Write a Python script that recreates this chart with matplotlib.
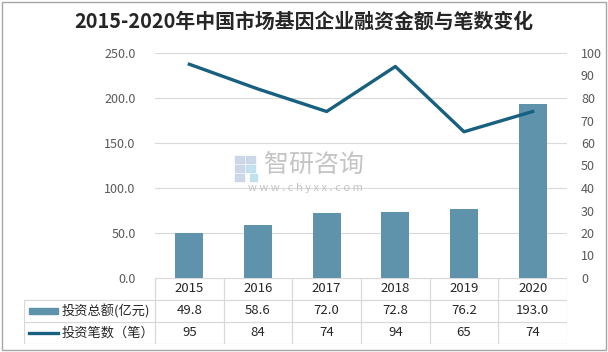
import numpy as np
import matplotlib
matplotlib.use("Agg")
import matplotlib.pyplot as plt
from matplotlib.patches import Rectangle
from matplotlib.lines import Line2D

plt.rcParams['font.family'] = ['Noto Sans CJK SC', 'DejaVu Sans']

# data
years = ['2015', '2016', '2017', '2018', '2019', '2020']
amount = [49.8, 58.6, 72.0, 72.8, 76.2, 193.0]   # 投资总额(亿元)
deals = [95, 84, 74, 94, 65, 74]                  # 投资笔数（笔）
title = '2015-2020年中国市场基因企业融资金额与笔数变化'
bar_label = '投资总额(亿元)'
line_label = '投资笔数（笔）'

W, H = 608, 352
bar_color = '#5F93AB'
line_color = '#17607F'
grid_color = '#D9D9D9'
tick_color = '#595959'

fig = plt.figure(figsize=(W / 100, H / 100), dpi=100)

def px_box(x0, y0, x1, y1):
    # pixel box (top-left origin) -> figure fraction rect
    return [x0 / W, 1 - y1 / H, (x1 - x0) / W, (y1 - y0) / H]

# outer frame
fig.add_artist(Rectangle((2 / W, 2 / H), (W - 4) / W, (H - 4) / H,
                         transform=fig.transFigure, fill=False,
                         edgecolor='#A6A6A6', linewidth=1))

fig.text(0.5, 1 - 21 / H, title, ha='center', va='center',
         fontsize=14.3, fontweight='bold', color='#262626')

# main plot area
ax = fig.add_axes(px_box(155, 53, 567, 278))
x = np.arange(len(years))
ax.bar(x, amount, width=0.41, color=bar_color, zorder=2)
ax.set_xlim(-0.5, len(years) - 0.5)
ax.set_ylim(0, 250)
ax.set_yticks(np.arange(0, 251, 50))
ax.set_yticklabels([f'{v:.1f}' for v in np.arange(0, 251, 50)])
ax.set_xticks([])
ax.grid(axis='y', color=grid_color, linewidth=0.8, zorder=0)
ax.set_axisbelow(True)
for s in ax.spines.values():
    s.set_visible(False)
ax.tick_params(axis='y', length=0, labelsize=9, labelcolor=tick_color, pad=14)

ax2 = ax.twinx()
ax2.plot(x, deals, color=line_color, linewidth=2.4, zorder=3)
ax2.set_ylim(0, 100)
ax2.set_yticks(np.arange(0, 101, 10))
for s in ax2.spines.values():
    s.set_visible(False)
ax2.tick_params(axis='y', length=0, labelsize=9, labelcolor=tick_color, pad=10)

# watermark
wm = fig.add_axes(px_box(233, 150, 380, 195))
wm.set_xlim(233, 380)
wm.set_ylim(195, 150)
wm.axis('off')
for (bx, by, bw, bh, c) in [(235, 156, 9, 7, '#C5D3E6'), (246, 156, 9, 7, '#C5D3E6'),
                            (235, 165, 9, 7, '#C5D3E6'), (246, 165, 9, 7, '#B9DDEE'),
                            (235, 174, 9, 7, '#C5D3E6'), (250, 174, 7, 7, '#B9DDEE')]:
    wm.add_patch(Rectangle((bx, by), bw, bh, color=c, alpha=0.85))
wm.text(264, 165, '智研咨询', ha='left', va='center', fontsize=18,
        color='#C4C4C4')
wm.text(305, 188, 'w w w . c h y x x . c o m', ha='center', va='center',
        fontsize=8, color='#C4C4C4')

# data table under the chart
tab = fig.add_axes(px_box(24, 278, 567, 344))
col_w = (567 - 155) / len(years)
left_edge = -0.5 - (155 - 24) / col_w
tab.set_xlim(left_edge, len(years) - 0.5)
tab.set_ylim(3, 0)
tab.axis('off')

def hline(y, x0, x1):
    tab.add_line(Line2D([x0, x1], [y, y], color=grid_color, linewidth=0.9))

def vline(xv, y0, y1):
    tab.add_line(Line2D([xv, xv], [y0, y1], color=grid_color, linewidth=0.9))

hline(0, -0.5, len(years) - 0.5)
for yy in (1, 2, 3):
    hline(yy, left_edge, len(years) - 0.5)
for i in range(len(years) + 1):
    vline(i - 0.5, 0, 3)
vline(left_edge, 1, 3)

txt_kw = dict(ha='center', va='center', fontsize=9.5, color='#262626')
for i in range(len(years)):
    tab.text(i, 0.5, years[i], **txt_kw)
    tab.text(i, 1.5, f'{amount[i]:.1f}', **txt_kw)
    tab.text(i, 2.5, f'{deals[i]}', **txt_kw)

sw0 = left_edge + 0.07
sw1 = sw0 + 0.42
tab.add_patch(Rectangle((sw0, 1.38), sw1 - sw0, 0.24, color=bar_color))
tab.add_line(Line2D([sw0, sw1], [2.5, 2.5], color=line_color, linewidth=2.4))
tab.text(sw1 + 0.05, 1.5, bar_label, ha='left', va='center',
         fontsize=9.5, color='#262626')
tab.text(sw1 + 0.05, 2.5, line_label, ha='left', va='center',
         fontsize=9.5, color='#262626')

fig.savefig('out.png', dpi=100)
